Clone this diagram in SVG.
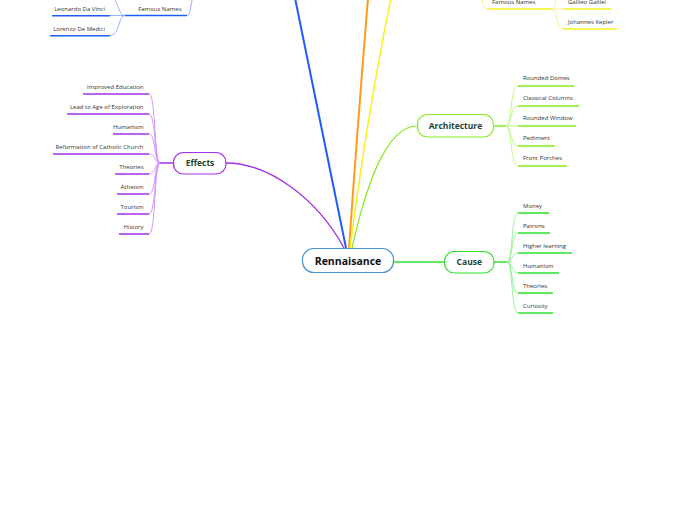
<svg xmlns="http://www.w3.org/2000/svg" width="697" height="520" viewBox="0 0 697 520">
<style>
  .lbl { font-family: "Open Sans", "DejaVu Sans", sans-serif; font-size: 6px; fill: #333; }
  .r { text-anchor: end; }
  .node-t { font-family: "Open Sans", "DejaVu Sans", sans-serif; font-size: 8.5px; font-weight: bold; fill: #1b4536; text-anchor: middle; }
  .root-t { font-family: "Open Sans", "DejaVu Sans", sans-serif; font-size: 10.5px; font-weight: bold; fill: #111; text-anchor: middle; }
  .box { fill: #fff; stroke-width: 1.2; }
  .ul { fill: none; stroke-width: 1.5; }
  .thin { fill: none; stroke-width: 0.9; }
  .purple { stroke: #a52ee8; }
  .purple-l { stroke: #cf88ff; }
  .lime { stroke: #86ec1c; }
  .lime-l { stroke: #c0f57c; }
  .green { stroke: #2fe02f; }
  .green-l { stroke: #8cf28c; }
  .blue { stroke: #1f5cff; }
  .blue-l { stroke: #8aa8ff; }
  .yellow { stroke: #f2f21a; }
  .yellow-l { stroke: #f5f580; }
</style>

<g id="connectors">
  <!-- main branches -->
  <path class="blue" fill="none" stroke-width="2" d="M346,248 Q322,130 295,-2"/>
  <path stroke="#ff9a1e" fill="none" stroke-width="2" d="M349,248 Q358,120 368,-2"/>
  <path class="yellow" fill="none" stroke-width="1.5" d="M350,248 Q368,110 391,-2"/>
  <path class="lime" fill="none" stroke-width="1.2" d="M352,248 C365,190 385,126 417,126"/>
  <path class="purple" fill="none" stroke-width="1.3" d="M226,163 C270,163 318,200 344,248"/>
  <path class="green" fill="none" stroke-width="1.3" d="M394,262 L444,262"/>

  <!-- Effects children -->
  <path class="purple" fill="none" stroke-width="1.5" d="M173,163 L160,163"/>
  <g class="thin purple-l">
    <path d="M160,163 C154,163 156,94 149,94"/>
    <path d="M160,163 C154,163 156,114 149,114"/>
    <path d="M160,163 C154,163 156,134 149,134"/>
    <path d="M160,163 C154,163 156,154 149,154"/>
    <path d="M160,163 C154,163 156,174 149,174"/>
    <path d="M160,163 C154,163 156,194 149,194"/>
    <path d="M160,163 C154,163 156,214 149,214"/>
    <path d="M160,163 C154,163 156,234 149,234"/>
  </g>

  <!-- Architecture children -->
  <path class="lime" fill="none" stroke-width="1.5" d="M494,126 L506,126"/>
  <g class="thin lime-l">
    <path d="M506,126 C512,126 510,86 518,86"/>
    <path d="M506,126 C512,126 510,106 518,106"/>
    <path d="M506,126 L518,126"/>
    <path d="M506,126 C512,126 510,146 518,146"/>
    <path d="M506,126 C512,126 510,166 518,166"/>
  </g>

  <!-- Cause children -->
  <path class="green" fill="none" stroke-width="1.5" d="M494,262 L507,262"/>
  <g class="thin green-l">
    <path d="M507,262 C513,262 511,213 518,213"/>
    <path d="M507,262 C513,262 511,233 518,233"/>
    <path d="M507,262 C513,262 511,253 518,253"/>
    <path d="M507,262 C513,262 511,273 518,273"/>
    <path d="M507,262 C513,262 511,293 518,293"/>
    <path d="M507,262 C513,262 511,313 518,313"/>
  </g>

  <!-- Top-left Famous Names -->
  <path class="thin blue-l" d="M187,15.5 C191,15.5 190,4 193,-2"/>
  <g class="thin blue-l">
    <path d="M125,15.5 L110,15.5"/>
    <path d="M125,15.5 C118,15.5 120,35.5 110,35.5"/>
    <path d="M125,15.5 C119,15.5 118,4 114,-2"/>
  </g>

  <!-- Top-right Famous Names -->
  <path class="thin yellow-l" d="M487,9 C483,9 484,3 481,-2"/>
  <g class="thin yellow-l">
    <path d="M551,9 L563,9"/>
    <path d="M551,9 C558,9 556,29 563,29"/>
    <path d="M551,9 C556,9 555,2 557,-2"/>
  </g>
</g>

<g id="root">
  <rect class="box" x="302.5" y="248.5" width="91" height="24" rx="11" stroke="#4a92d4"/>
  <text class="root-t" x="348" y="264.5">Rennaisance</text>
</g>

<g id="effects">
  <rect class="box purple" x="173.5" y="152.5" width="52.5" height="21.5" rx="10"/>
  <text class="node-t" x="200" y="166.3">Effects</text>
</g>
<g id="effects-children">
  <g id="e1"><path class="ul purple" d="M83,94 H149"/><text class="lbl r" x="143.5" y="88.8">Improved Education</text></g>
  <g id="e2"><path class="ul purple" d="M67,114 H149"/><text class="lbl r" x="143.5" y="108.8">Lead to Age of Exploration</text></g>
  <g id="e3"><path class="ul purple" d="M113,134 H149"/><text class="lbl r" x="143.5" y="128.8">Humanism</text></g>
  <g id="e4"><path class="ul purple" d="M53,154 H149"/><text class="lbl r" x="143.5" y="148.8">Reformation of Catholic Church</text></g>
  <g id="e5"><path class="ul purple" d="M115,174 H149"/><text class="lbl r" x="143.5" y="168.8">Theories</text></g>
  <g id="e6"><path class="ul purple" d="M117,194 H149"/><text class="lbl r" x="143.5" y="188.8">Atheism</text></g>
  <g id="e7"><path class="ul purple" d="M117,214 H149"/><text class="lbl r" x="143.5" y="208.8">Tourism</text></g>
  <g id="e8"><path class="ul purple" d="M119,234 H149"/><text class="lbl r" x="143.5" y="228.8">History</text></g>
</g>

<g id="architecture">
  <rect class="box lime" x="417.5" y="114.5" width="76" height="22.5" rx="10"/>
  <text class="node-t" x="455.5" y="128.8">Architecture</text>
</g>
<g id="architecture-children">
  <g id="a1"><path class="ul lime" d="M518,86 H574"/><text class="lbl" x="523" y="80.4">Rounded Domes</text></g>
  <g id="a2"><path class="ul lime" d="M518,106 H579"/><text class="lbl" x="523" y="100.4">Classical Columns</text></g>
  <g id="a3"><path class="ul lime" d="M518,126 H576"/><text class="lbl" x="523" y="120.4">Rounded Window</text></g>
  <g id="a4"><path class="ul lime" d="M518,146 H555"/><text class="lbl" x="523" y="140.4">Pediment</text></g>
  <g id="a5"><path class="ul lime" d="M518,166 H567"/><text class="lbl" x="523" y="160.4">Front Porches</text></g>
</g>

<g id="cause">
  <rect class="box green" x="444.5" y="251.5" width="49.5" height="21.5" rx="10"/>
  <text class="node-t" x="469.3" y="265.3">Cause</text>
</g>
<g id="cause-children">
  <g id="c1"><path class="ul green" d="M518,213 H549"/><text class="lbl" x="523" y="207.8">Money</text></g>
  <g id="c2"><path class="ul green" d="M518,233 H550"/><text class="lbl" x="523" y="227.8">Patrons</text></g>
  <g id="c3"><path class="ul green" d="M518,253 H572"/><text class="lbl" x="523" y="247.8">Higher learning</text></g>
  <g id="c4"><path class="ul green" d="M518,273 H559"/><text class="lbl" x="523" y="267.8">Humanism</text></g>
  <g id="c5"><path class="ul green" d="M518,293 H553"/><text class="lbl" x="523" y="287.8">Theories</text></g>
  <g id="c6"><path class="ul green" d="M518,313 H553"/><text class="lbl" x="523" y="307.8">Curiosity</text></g>
</g>

<g id="famous-names-left">
  <path class="ul blue" d="M125,15.5 H187"/>
  <text class="lbl r" x="181.5" y="11">Famous Names</text>
</g>
<g id="leonardo">
  <path class="ul blue" d="M52,15.7 H110"/>
  <text class="lbl r" x="105" y="11">Leonardo Da Vinci</text>
</g>
<g id="lorenzo">
  <path class="ul blue" d="M50,35.7 H110"/>
  <text class="lbl r" x="105" y="31">Lorenzo De Medici</text>
</g>

<g id="famous-names-right">
  <path class="ul yellow" d="M487,9 H551"/>
  <text class="lbl" x="492" y="4">Famous Names</text>
</g>
<g id="galileo">
  <path class="ul yellow" d="M563,9 H611"/>
  <text class="lbl" x="568" y="4">Galileo Galilei</text>
</g>
<g id="kepler">
  <path class="ul yellow" d="M563,29 H617"/>
  <text class="lbl" x="568" y="24">Johannes Kepler</text>
</g>
</svg>
